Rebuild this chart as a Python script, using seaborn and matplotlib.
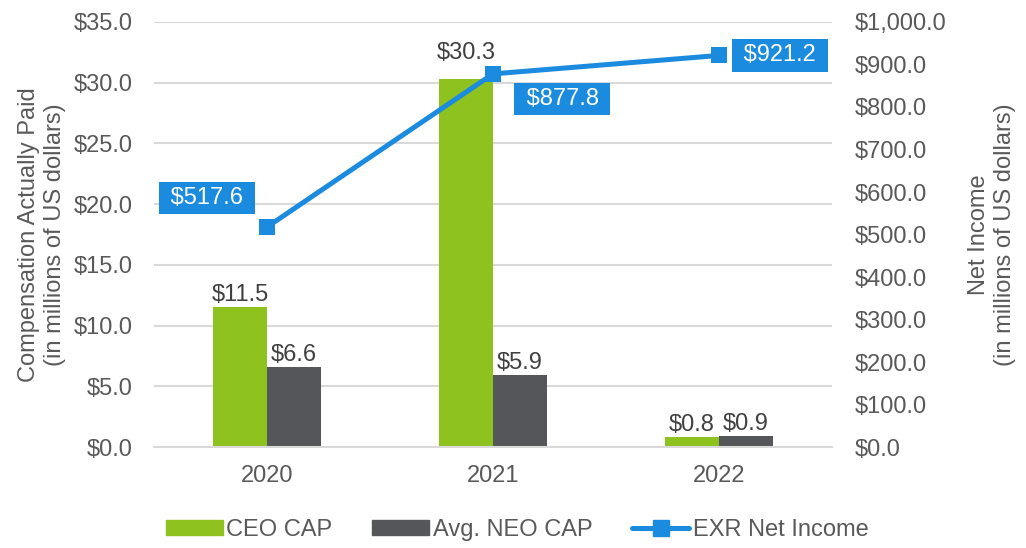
import numpy as np
import pandas as pd
import matplotlib
matplotlib.use('Agg')
import matplotlib.pyplot as plt
import seaborn as sns
from matplotlib.patches import Patch
from matplotlib.lines import Line2D

years = ['2020', '2021', '2022']
ceo_cap = [11.5, 30.3, 0.8]
neo_cap = [6.6, 5.9, 0.9]
net_income = [517.6, 877.8, 921.2]

sns.set_theme(style='white')
plt.rcParams['font.family'] = ['Liberation Sans', 'DejaVu Sans']
txt = '#595959'
green, grey, blue = '#8DC21F', '#55565A', '#1B8BE0'
fs = 17

df = pd.DataFrame({
    'year': years * 2,
    'value': ceo_cap + neo_cap,
    'series': ['CEO CAP'] * 3 + ['Avg. NEO CAP'] * 3,
})

fig = plt.figure(figsize=(10.26, 5.48), dpi=100)
ax = fig.add_axes([0.150, 0.184, 0.661, 0.776])
sns.barplot(data=df, x='year', y='value', hue='series', ax=ax, saturation=1,
            palette=[green, grey], width=0.478, legend=False, linewidth=0)
labels = []
for c in ax.containers:
    labels.append(ax.bar_label(c, labels=['$%.1f' % v for v in c.datavalues], fontsize=fs,
                               color='#404040', padding=1))
# 2021 CEO label sits higher to clear the line marker
labels[0][1].xyann = (0, 11)

ax.set_ylim(0, 35)
ax.set_yticks(np.arange(0, 35.1, 5))
ax.set_yticklabels(['$%.1f' % v for v in np.arange(0, 35.1, 5)])
ax.set_xlim(-0.5, 2.5)
ax.yaxis.grid(True, color='#D9D9D9', lw=1.5)
ax.set_axisbelow(True)
for s in ['top', 'right', 'left']:
    ax.spines[s].set_visible(False)
ax.spines['bottom'].set_color('#D9D9D9')
ax.spines['bottom'].set_linewidth(1.5)
ax.tick_params(axis='y', labelsize=fs, colors=txt, length=0, pad=15)
ax.tick_params(axis='x', labelsize=fs, colors=txt, length=0, pad=13)
ax.set_xlabel('')
ax.set_ylabel('Compensation Actually Paid\n(in millions of US dollars)', fontsize=fs,
              color=txt, labelpad=6)

ax2 = ax.twinx()
sns.lineplot(x=np.arange(len(years)), y=net_income, ax=ax2, color=blue, lw=3.6,
             marker='s', markersize=11.5, markeredgewidth=0)
ax2.set_ylim(0, 1000)
ax2.set_yticks(np.arange(0, 1001, 100))
ax2.set_yticklabels(['$%s' % format(v, ',.1f') for v in np.arange(0, 1001, 100)])
ax2.tick_params(axis='y', labelsize=fs, colors=txt, length=0, pad=16)
for s in ax2.spines.values():
    s.set_visible(False)
ax2.set_ylabel('Net Income\n(in millions of US dollars)', fontsize=fs, color=txt, labelpad=16)

box = dict(boxstyle='square,pad=0.22', fc=blue, ec='none')
offsets = [(-43, 21), (50, -18), (44, 0)]
for i, v in enumerate(net_income):
    ax2.annotate(' $%.1f ' % v, (i, v), xytext=offsets[i], textcoords='offset points',
                 ha='center', va='center', fontsize=fs, color='white', bbox=box)

handles = [Patch(color=green, label='CEO CAP'),
           Patch(color=grey, label='Avg. NEO CAP'),
           Line2D([], [], color=blue, lw=3.6, marker='s', markersize=11, label='EXR Net Income')]
leg = fig.legend(handles=handles, loc='center', bbox_to_anchor=(0.504, 0.033), ncol=3,
                 frameon=False, fontsize=fs, handlelength=2.4, handleheight=0.55,
                 columnspacing=1.7, handletextpad=0.15)
for t in leg.get_texts():
    t.set_color(txt)

fig.savefig('out.png', dpi=100)
